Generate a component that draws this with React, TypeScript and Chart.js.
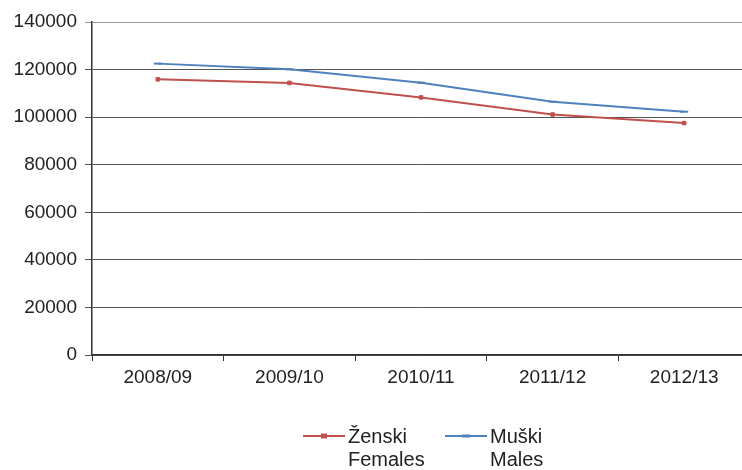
import React, { useEffect, useRef } from "react";
import { Chart, registerables } from "chart.js";

Chart.register(...registerables);

const categories = ["2008/09", "2009/10", "2010/11", "2011/12", "2012/13"];
const females = [115900, 114400, 108300, 101100, 97500];
const males = [122500, 120100, 114500, 106500, 102300];
const seriesNames = [["Ženski", "Females"], ["Muški", "Males"]];
const yTicks = { min: 0, max: 140000, step: 20000 };

const RED = "#C0504D";
const BLUE = "#4F81BD";
const FONT = "'Liberation Sans', Arial, sans-serif";

const legendPlugin = {
  id: "customLegend",
  afterDraw(chart: any) {
    const ctx = chart.ctx;
    const items = [
      { color: RED, text: seriesNames[0], x: 303, style: "rect" },
      { color: BLUE, text: seriesNames[1], x: 445, style: "line" },
    ];
    ctx.save();
    items.forEach((it) => {
      const y = 436;
      ctx.strokeStyle = it.color;
      ctx.lineWidth = 2;
      ctx.beginPath();
      ctx.moveTo(it.x, y);
      ctx.lineTo(it.x + 42, y);
      ctx.stroke();
      if (it.style === "rect") {
        ctx.fillStyle = it.color;
        ctx.fillRect(it.x + 18, y - 2.5, 6, 5);
      } else {
        ctx.lineWidth = 3;
        ctx.beginPath();
        ctx.moveTo(it.x + 17, y);
        ctx.lineTo(it.x + 25, y);
        ctx.stroke();
      }
      ctx.fillStyle = "#222";
      ctx.font = `20px ${FONT}`;
      ctx.textBaseline = "middle";
      ctx.textAlign = "left";
      ctx.fillText(it.text[0], it.x + 45, y + 1);
      ctx.fillText(it.text[1], it.x + 45, y + 24);
    });
    ctx.restore();
  },
};

export default function App() {
  const ref = useRef<HTMLCanvasElement>(null);
  useEffect(() => {
    if (!ref.current) return;
    const chart = new Chart(ref.current, {
      type: "line",
      data: {
        labels: categories,
        datasets: [
          {
            label: seriesNames[0].join(" "),
            data: females,
            borderColor: RED,
            backgroundColor: RED,
            borderWidth: 2,
            pointStyle: "rect",
            pointRadius: 2.5,
            pointBorderWidth: 1,
            tension: 0,
          },
          {
            label: seriesNames[1].join(" "),
            data: males,
            borderColor: BLUE,
            backgroundColor: BLUE,
            borderWidth: 2,
            pointStyle: "line",
            pointRadius: 4,
            pointBorderWidth: 2,
            tension: 0,
          },
        ],
      },
      options: {
        animation: false,
        responsive: false,
        layout: { padding: { top: 22, bottom: 75, left: 0, right: 0 } },
        plugins: { legend: { display: false }, tooltip: { enabled: false } },
        scales: {
          x: {
            offset: true,
            afterFit: (s: any) => {
              s.height = 40;
            },
            grid: {
              offset: true,
              drawOnChartArea: false,
              drawTicks: true,
              tickLength: 6,
              color: "#333",
            },
            border: { color: "#333", width: 1.5 },
            ticks: {
              color: "#222",
              font: { family: FONT, size: 19 },
              padding: 5,
              maxRotation: 0,
            },
          },
          y: {
            min: yTicks.min,
            max: yTicks.max,
            afterFit: (s: any) => {
              s.width = 92;
            },
            grid: {
              color: (c: any) => (c.tick && c.tick.value === yTicks.max ? "#999" : "#555"),
              lineWidth: 1,
              tickLength: 7,
            },
            border: { color: "#333", width: 1.5 },
            ticks: {
              stepSize: yTicks.step,
              color: "#222",
              font: { family: FONT, size: 19 },
              padding: 8,
              callback: (v: any) => String(v),
            },
          },
        },
      },
      plugins: [legendPlugin],
    });
    return () => chart.destroy();
  }, []);
  return (
    <div
      style={{
        position: "fixed",
        left: 0,
        top: 0,
        width: 742,
        height: 470,
        overflow: "hidden",
        background: "#fff",
      }}
    >
      <canvas ref={ref} width={756} height={470} style={{ display: "block" }} />
    </div>
  );
}
